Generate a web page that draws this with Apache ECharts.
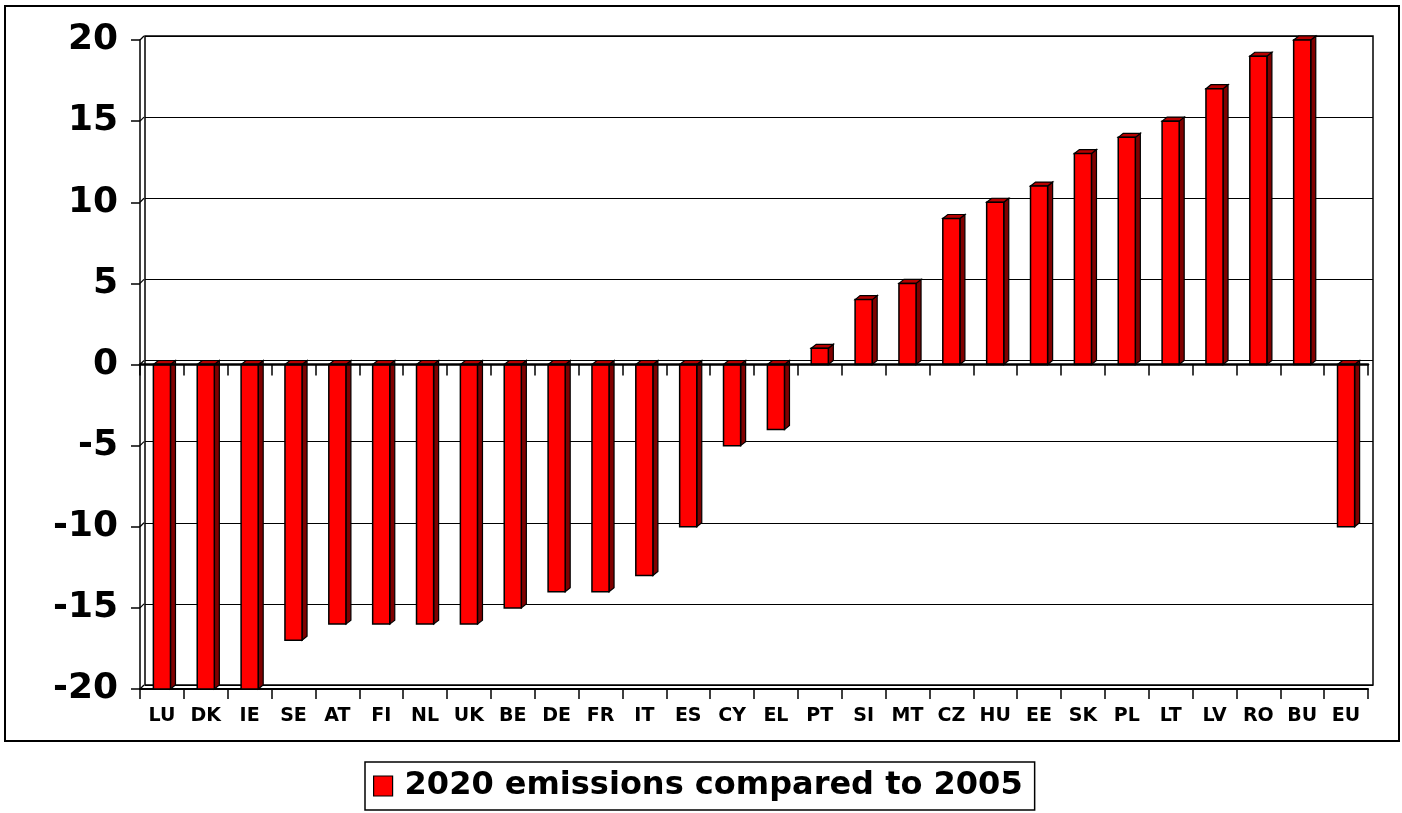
<!DOCTYPE html>
<html>
<head>
<meta charset="utf-8">
<script src="https://cdn.jsdelivr.net/npm/echarts@6/dist/echarts.min.js"></script>
<style>
  html, body { margin: 0; padding: 0; background: #fff; }
  #chart { width: 1402px; height: 813px; }
</style>
</head>
<body>
<div id="chart"></div>
<script>
const categories = ['LU','DK','IE','SE','AT','FI','NL','UK','BE','DE','FR','IT','ES','CY','EL','PT','SI','MT','CZ','HU','EE','SK','PL','LT','LV','RO','BU','EU'];
const emissions2020vs2005 = [-20,-20,-20,-17,-16,-16,-16,-16,-15,-14,-14,-13,-10,-5,-4,1,4,5,9,10,11,13,14,15,17,19,20,-10];
const yTicks = [-20,-15,-10,-5,0,5,10,15,20];
const seriesName = '2020 emissions compared to 2005';

const FONT = '"DejaVu Sans", Verdana, sans-serif';
const DX = 5, DY = 4;

function renderBar(params, api) {
  const idx = api.value(0), v = api.value(1);
  const p0 = api.coord([idx, 0]);
  const p1 = api.coord([idx, v]);
  const bw = api.size([1, 0])[0] * 0.39;
  const x0 = p0[0] - bw / 2, x1 = p0[0] + bw / 2;
  const yTop = Math.min(p0[1], p1[1]), yBot = Math.max(p0[1], p1[1]);
  return {
    type: 'group',
    children: [
      { type: 'polygon', shape: { points: [[x1, yTop], [x1 + DX, yTop - DY], [x1 + DX, yBot - DY], [x1, yBot]] },
        style: { fill: '#800000', stroke: '#000', lineWidth: 1.2 } },
      { type: 'polygon', shape: { points: [[x0, yTop], [x0 + DX, yTop - DY], [x1 + DX, yTop - DY], [x1, yTop]] },
        style: { fill: '#b80000', stroke: '#000', lineWidth: 1.2 } },
      { type: 'rect', shape: { x: x0, y: yTop, width: bw, height: yBot - yTop },
        style: { fill: '#ff0000', stroke: '#000', lineWidth: 1.5 } }
    ]
  };
}

function renderWall(params, api) {
  const v = api.value(1);
  const y = api.coord([0, v])[1];
  const x = params.coordSys.x;
  return { type: 'line', shape: { x1: x, y1: y, x2: x + 4, y2: y - 4 },
    style: { stroke: '#000', lineWidth: 1.2 } };
}

const chart = echarts.init(document.getElementById('chart'), null, { renderer: 'canvas' });
chart.setOption({
  animation: false,
  backgroundColor: '#fff',
  textStyle: { fontFamily: FONT },
  graphic: [
    { type: 'rect', shape: { x: 5, y: 6, width: 1394, height: 735 },
      style: { fill: 'none', stroke: '#000', lineWidth: 2 }, z: 100 }
  ],
  legend: {
    left: 365, top: 762,
    data: [{ name: seriesName, icon: 'rect', itemStyle: { color: '#ff0000', borderColor: '#000', borderWidth: 1.2 } }],
    itemWidth: 19, itemHeight: 20, itemGap: 10,
    padding: [8, 12, 8, 8],
    backgroundColor: '#fff', borderColor: '#000', borderWidth: 1.5, borderRadius: 0,
    textStyle: { fontFamily: FONT, fontWeight: 'bold', fontSize: 32, color: '#000', padding: [0, 0, 0, 7] }
  },
  grid: [
    { left: 140, top: 40, width: 1228, height: 649, show: false },
    { left: 145, top: 36, width: 1228, height: 649, show: true, backgroundColor: '#fff', borderColor: '#000', borderWidth: 1.5 }
  ],
  xAxis: [
    { type: 'category', gridIndex: 0, data: categories, position: 'bottom',
      axisLine: { onZero: false, lineStyle: { color: '#000', width: 2 } },
      axisTick: { show: true, length: 10, interval: 0, lineStyle: { color: '#000', width: 1.5 } },
      axisLabel: { interval: 0, margin: 18, fontFamily: FONT, fontWeight: 'bold', fontSize: 19, color: '#000' },
      splitLine: { show: false } },
    { type: 'category', gridIndex: 0, data: categories, position: 'top', z: 5,
      axisLine: { onZero: true, lineStyle: { color: '#000', width: 2.5 } },
      axisTick: { show: true, inside: true, length: 11, interval: 0, lineStyle: { color: '#000', width: 1.5 } },
      axisLabel: { show: false }, splitLine: { show: false } },
    { type: 'category', gridIndex: 1, data: categories, show: false }
  ],
  yAxis: [
    { type: 'value', gridIndex: 0, min: -20, max: 20, interval: 5,
      axisLine: { show: true, lineStyle: { color: '#000', width: 1.5 } },
      axisTick: { show: true, length: 9, lineStyle: { color: '#000', width: 1.5 } },
      axisLabel: { margin: 22, fontFamily: FONT, fontWeight: 'bold', fontSize: 36, color: '#000' },
      splitLine: { show: false } },
    { type: 'value', gridIndex: 1, min: -20, max: 20, interval: 5,
      axisLine: { show: false }, axisTick: { show: false }, axisLabel: { show: false },
      splitLine: { show: true, lineStyle: { color: '#000', width: 1 } } }
  ],
  series: [
    { type: 'custom', name: 'wall', xAxisIndex: 0, yAxisIndex: 0, silent: true, z: 1,
      renderItem: renderWall, data: yTicks.map(t => [0, t]), encode: { x: 0, y: 1 } },
    { type: 'custom', name: seriesName, xAxisIndex: 0, yAxisIndex: 0, z: 2,
      itemStyle: { color: '#ff0000' },
      renderItem: renderBar,
      data: emissions2020vs2005.map((v, i) => [i, v]),
      encode: { x: 0, y: 1 } }
  ]
});
</script>
</body>
</html>
